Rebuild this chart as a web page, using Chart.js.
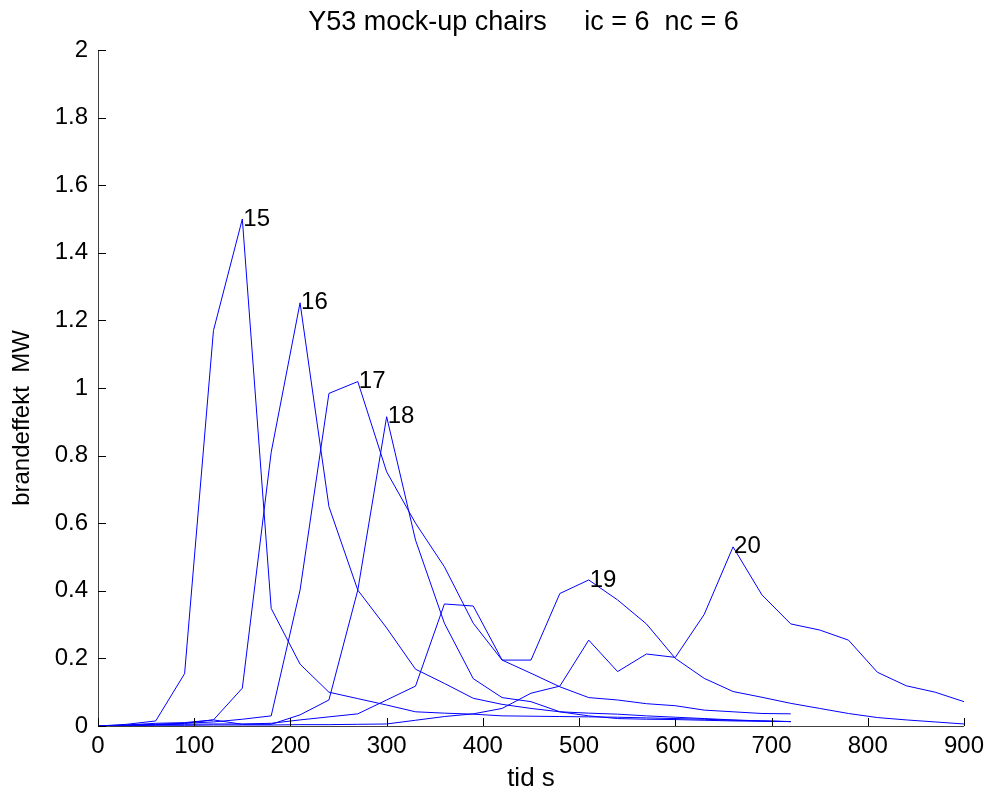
<!DOCTYPE html>
<html>
<head>
<meta charset="utf-8">
<script src="https://cdn.jsdelivr.net/npm/chart.js@4.4.1/dist/chart.umd.min.js"></script>
<style>
  html, body { margin: 0; padding: 0; background: #ffffff; }
  #wrap { width: 990px; height: 796px; }
</style>
</head>
<body>
<div id="wrap"><canvas id="fire-chart" width="990" height="796"></canvas></div>
<script>
// Data Stuff

// sample times, s (every 30 s)
var times = [0, 30, 60, 90, 120, 150, 180, 210, 240, 270, 300, 330, 360, 390, 420, 450,
             480, 510, 540, 570, 600, 630, 660, 690, 720, 750, 780, 810, 840, 870, 900];

// heat release, MW (runs 15-18 stop at 720 s)
var run15 = [0, 0.005, 0.015, 0.155, 1.17, 1.5, 0.348, 0.183, 0.1, 0.081, 0.062, 0.042, 0.038,
             0.035, 0.03, 0.029, 0.028, 0.027, 0.026, 0.024, 0.022, 0.02, 0.017, 0.015, 0.013];
var run16 = [0, 0.003, 0.008, 0.01, 0.018, 0.112, 0.81, 1.252, 0.649, 0.402, 0.29, 0.168, 0.126,
             0.082, 0.064, 0.052, 0.042, 0.038, 0.035, 0.03, 0.026, 0.022, 0.018, 0.015, 0.013];
var run17 = [0, 0.002, 0.005, 0.008, 0.012, 0.02, 0.03, 0.402, 0.984, 1.019, 0.752, 0.6, 0.471,
             0.304, 0.195, 0.156, 0.116, 0.084, 0.077, 0.066, 0.06, 0.047, 0.042, 0.037, 0.036];
var run18 = [0, 0.002, 0.004, 0.008, 0.018, 0.005, 0.005, 0.033, 0.077, 0.402, 0.915, 0.55, 0.304,
             0.14, 0.084, 0.072, 0.042, 0.03, 0.022, 0.02, 0.019, 0.017, 0.015, 0.014, 0.013];
var run19 = [0, 0.002, 0.004, 0.005, 0.006, 0.006, 0.008, 0.018, 0.027, 0.036, 0.077, 0.118, 0.361,
             0.355, 0.195, 0.195, 0.392, 0.432, 0.373, 0.302, 0.2, 0.141, 0.102, 0.085, 0.067,
             0.052, 0.037, 0.025, 0.018, 0.012, 0.006];
var run20 = [0, 0.001, 0.002, 0.002, 0.003, 0.003, 0.003, 0.004, 0.004, 0.005, 0.006, 0.017, 0.028,
             0.036, 0.052, 0.097, 0.118, 0.254, 0.161, 0.213, 0.203, 0.33, 0.53, 0.388, 0.302,
             0.284, 0.254, 0.159, 0.119, 0.1, 0.072];

var runNames = ["15", "16", "17", "18", "19", "20"];
var runs = [run15, run16, run17, run18, run19, run20];

var xTicks = [0, 100, 200, 300, 400, 500, 600, 700, 800, 900];
var yTicks = [0, 0.2, 0.4, 0.6, 0.8, 1, 1.2, 1.4, 1.6, 1.8, 2];

var titleText = "Y53 mock-up chairs     ic = 6  nc = 6  ";
var xTitle = "tid s";
var yTitle = "brandeffekt  MW";

// Chart Stuff

const fontFam = '"Liberation Sans", Arial, Helvetica, sans-serif';
const fontSize = 24;

Chart.defaults.font.family = fontFam;
Chart.defaults.font.size = fontSize;
Chart.defaults.color = '#000000';

const datasets = runs.map((vals, i) => ({
    label: runNames[i],
    data: vals.map((v, k) => ({ x: times[k], y: v })),
    borderColor: '#0000ff',
    borderWidth: 1,
    pointRadius: 0,
    tension: 0,
    fill: false
}));

// ticks point into the plot, like the old matlab figure
const innerTicks = {
    id: 'innerTicks',
    afterDraw(chart) {
        const { ctx, chartArea, scales } = chart;
        ctx.save();
        ctx.strokeStyle = '#000000';
        ctx.lineWidth = 1;
        ctx.beginPath();
        scales.x.ticks.forEach(t => {
            let px = Math.round(scales.x.getPixelForValue(t.value)) + 0.5;
            ctx.moveTo(px, chartArea.bottom);
            ctx.lineTo(px, chartArea.bottom - 8);
        });
        scales.y.ticks.forEach(t => {
            let py = Math.round(scales.y.getPixelForValue(t.value)) + 0.5;
            ctx.moveTo(chartArea.left, py);
            ctx.lineTo(chartArea.left + 8, py);
        });
        ctx.stroke();

        // y axis title, sits a bit below the middle of the axis
        ctx.font = fontSize + 'px ' + fontFam;
        ctx.fillStyle = '#000000';
        ctx.textAlign = 'center';
        ctx.textBaseline = 'middle';
        ctx.translate(22, (chartArea.top + chartArea.bottom) / 2 + 30);
        ctx.rotate(-Math.PI / 2);
        ctx.fillText(yTitle, 0, 0);
        ctx.restore();
    }
};

// run number written at the top of each curve
const peakLabels = {
    id: 'peakLabels',
    afterDatasetsDraw(chart) {
        const ctx = chart.ctx;
        ctx.save();
        ctx.font = fontSize + 'px ' + fontFam;
        ctx.fillStyle = '#000000';
        ctx.textAlign = 'left';
        ctx.textBaseline = 'middle';
        chart.data.datasets.forEach((ds, i) => {
            let ys = ds.data.map(p => p.y);
            let k = ys.indexOf(Math.max.apply(null, ys));
            let pt = chart.getDatasetMeta(i).data[k];
            ctx.fillText(ds.label, pt.x + 1, pt.y);
        });
        ctx.restore();
    }
};

const firechart = new Chart(document.getElementById("fire-chart"), {
    type: 'line',
    data: { datasets: datasets },
    plugins: [innerTicks, peakLabels],
    options: {
        responsive: false,
        animation: false,
        devicePixelRatio: 1,
        layout: { padding: { top: 0, right: 24, bottom: 0, left: 0 } },
        plugins: {
            legend: { display: false },
            tooltip: { enabled: false },
            title: {
                display: true,
                text: titleText,
                fullSize: false,
                color: '#000000',
                font: { size: 27, weight: 'normal' },
                padding: { top: 6, bottom: 11.6 }
            }
        },
        scales: {
            x: {
                type: 'linear',
                min: 0,
                max: 900,
                afterBuildTicks: s => { s.ticks = xTicks.map(v => ({ value: v })); },
                afterFit: s => { s.height = 70; },
                ticks: { padding: 6, maxRotation: 0, autoSkip: false, color: '#000000' },
                grid: { display: true, drawOnChartArea: false, drawTicks: false },
                border: { display: true, color: '#404040', width: 1 },
                title: { display: true, text: xTitle, color: '#000000', font: { size: 26 }, padding: { top: 0, bottom: 2 } }
            },
            y: {
                type: 'linear',
                min: 0,
                max: 2,
                afterBuildTicks: s => { s.ticks = yTicks.map(v => ({ value: v })); },
                afterFit: s => { s.width = 98; },
                ticks: {
                    padding: 10,
                    autoSkip: false,
                    color: '#000000',
                    callback: v => String(Math.round(v * 10) / 10)
                },
                grid: { display: true, drawOnChartArea: false, drawTicks: false },
                border: { display: true, color: '#404040', width: 1 },
                title: { display: false }
            }
        }
    }
});
</script>
</body>
</html>
